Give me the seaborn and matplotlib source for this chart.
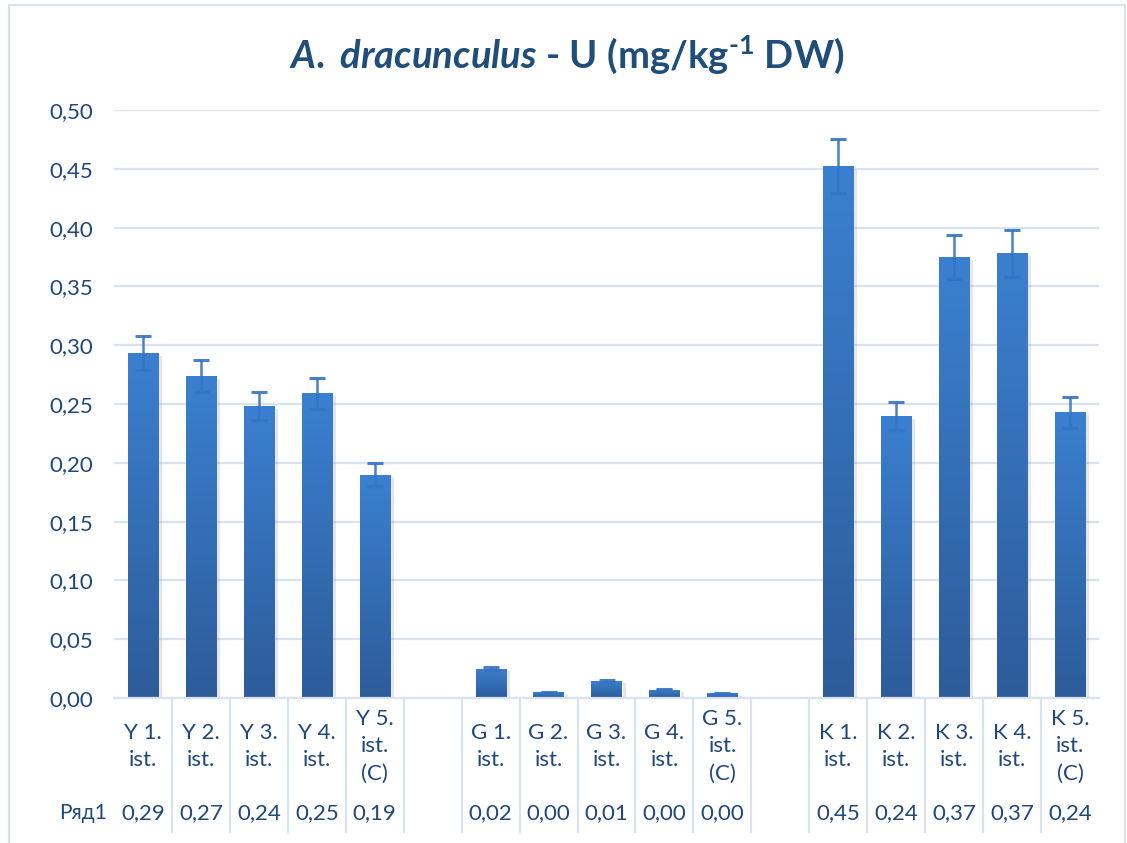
import numpy as np
import pandas as pd
import matplotlib
matplotlib.use("Agg")
import matplotlib.pyplot as plt
import matplotlib.patheffects as pe
import matplotlib.transforms as mtrans
from matplotlib.colors import LinearSegmentedColormap
from matplotlib.patches import Rectangle
import seaborn as sns

#-----------------------------------------------------------------------
# Data; blank slots separate the three groups
categories = ["Y 1.\nist.", "Y 2.\nist.", "Y 3.\nist.", "Y 4.\nist.", "Y 5.\nist.\n(C)", " ",
              "G 1.\nist.", "G 2.\nist.", "G 3.\nist.", "G 4.\nist.", "G 5.\nist.\n(C)", "  ",
              "K 1.\nist.", "K 2.\nist.", "K 3.\nist.", "K 4.\nist.", "K 5.\nist.\n(C)"]
values = [0.293, 0.274, 0.248, 0.259, 0.190, np.nan,
          0.025, 0.0048, 0.0148, 0.0072, 0.0040, np.nan,
          0.452, 0.240, 0.375, 0.378, 0.243]
errors = [0.0145, 0.0135, 0.012, 0.013, 0.0095, np.nan,
          0.0012, 0.0006, 0.0008, 0.0006, 0.0004, np.nan,
          0.023, 0.012, 0.019, 0.020, 0.013]
table_values = ["0,29", "0,27", "0,24", "0,25", "0,19", "",
                "0,02", "0,00", "0,01", "0,00", "0,00", "",
                "0,45", "0,24", "0,37", "0,37", "0,24"]
series_name = "Ряд1"
y_ticks = [0.0, 0.05, 0.10, 0.15, 0.20, 0.25, 0.30, 0.35, 0.40, 0.45, 0.50]

#-----------------------------------------------------------------------
# Style
sns.set_style("white")
plt.rcParams['font.family'] = ['Lato', 'Open Sans', 'DejaVu Sans']
plt.rcParams['mathtext.fontset'] = 'custom'
plt.rcParams['mathtext.rm'] = 'Lato:bold'
plt.rcParams['mathtext.bf'] = 'Lato:bold'
plt.rcParams['mathtext.it'] = 'Lato:italic:bold'

text_color = '#1f487c'
grid_color = '#d9e2f1'

df = pd.DataFrame({'category': categories, 'value': values})

fig = plt.figure(figsize=(11.27, 8.43), dpi=100)
ax = fig.add_axes([114 / 1127, 1 - 698 / 843, 985 / 1127, 588 / 843])

sns.barplot(data=df, x='category', y='value', order=categories,
            color='#3a7dcc', width=0.52, ax=ax, errorbar=None)

# gradient fill + soft shadow on each bar
cmap = LinearSegmentedColormap.from_list('bar', ['#2d5c99', '#3b80d0'])
grad = np.linspace(0, 1, 256).reshape(-1, 1)
for p in list(ax.patches):
    h = p.get_height()
    if not np.isfinite(h) or h <= 0:
        continue
    p.set_path_effects([pe.SimplePatchShadow(offset=(3, -2), shadow_rgbFace=(0.4, 0.4, 0.4), alpha=0.16),
                        pe.Normal()])
    x0, w = p.get_x(), p.get_width()
    im = ax.imshow(grad, extent=[x0, x0 + w, 0, h], origin='lower', aspect='auto',
                   cmap=cmap, zorder=p.get_zorder() + 0.1)
    im.set_clip_path(p)

xpos = np.arange(len(categories))
ax.errorbar(xpos, values, yerr=errors, fmt='none', ecolor='#3474c4', elinewidth=1.8,
            capsize=6, capthick=2.2, zorder=6, alpha=0.9)

ax.set_xlim(-0.5, len(categories) - 0.5)
ax.set_ylim(0, 0.5)
ax.set_yticks(y_ticks)
ax.set_yticklabels([f"{t:.2f}".replace('.', ',') for t in y_ticks], fontsize=16, color=text_color)
ax.tick_params(axis='y', length=0, pad=15)
ax.set_xticks([])
ax.set_xlabel('')
ax.set_ylabel('')
ax.yaxis.grid(True, color=grid_color, linewidth=1.6)
ax.set_axisbelow(True)
for s in ['left', 'right', 'top']:
    ax.spines[s].set_visible(False)
ax.spines['bottom'].set_color(grid_color)
ax.spines['bottom'].set_linewidth(1.6)

# data table below the plot
trans = mtrans.blended_transform_factory(ax.transData, ax.transAxes)
for i, (lab, val) in enumerate(zip(categories, table_values)):
    ax.text(i, -0.082, lab.strip(), transform=trans, ha='center', va='center',
            fontsize=16, color=text_color, linespacing=1.45)
    ax.text(i, -0.196, val, transform=trans, ha='center', va='center',
            fontsize=16, color=text_color)
for b in xpos[1:] - 0.5:
    ax.plot([b, b], [0, -0.228], transform=trans, color=grid_color, linewidth=1.6, clip_on=False)
ax.text(-0.62, -0.196, series_name, transform=trans, ha='right', va='center',
        fontsize=15, color=text_color)

# title
fig.text(0.503, 0.935, r"$\mathit{A.}$ $\mathit{dracunculus}$ - U (mg/kg$^{\text{-}1}$ DW)",
         ha='center', va='center', fontsize=27.5, fontweight='bold', color='#1f4e79')

# chart-area border
fig.add_artist(Rectangle((9 / 1127, -0.01), (1125 - 9) / 1127, 1.01 - 5 / 843,
                         transform=fig.transFigure, fill=False, edgecolor=grid_color, linewidth=1.5))

fig.savefig('out.png', dpi=100)
plt.close(fig)
